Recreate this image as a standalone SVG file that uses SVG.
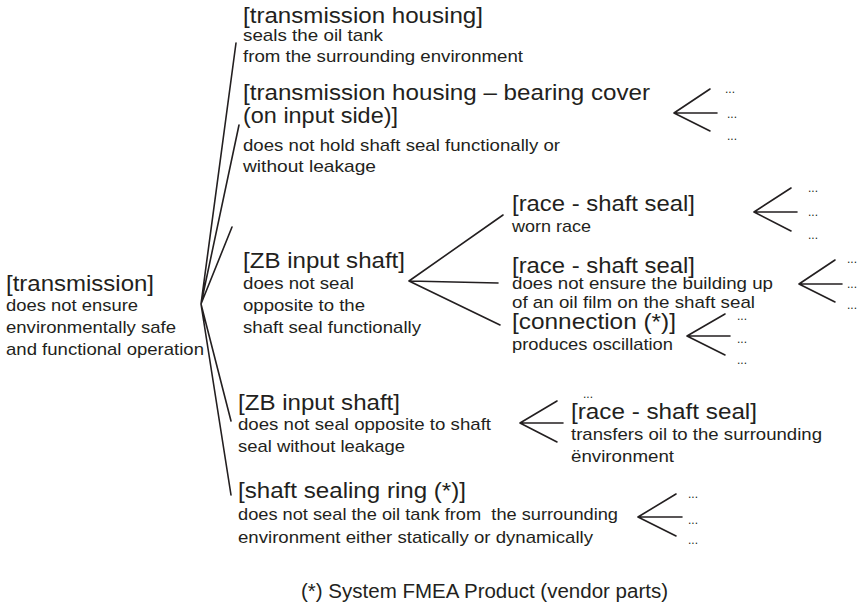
<svg xmlns="http://www.w3.org/2000/svg" width="864" height="614" viewBox="0 0 864 614">
  <style>
    text { font-family: "Liberation Sans", Arial, sans-serif; fill: #231f20; }
    .t { font-size: 22px; }
    .s { font-size: 17px; }
    .d { font-size: 12px; }
    .f { font-size: 20px; }
    .ln { stroke: #231f20; stroke-width: 1.6; fill: none; stroke-linecap: round; stroke-linejoin: round; }
  </style>

  <!-- connectors -->
  <g id="connectors" class="ln">
    <!-- root fan -->
    <path d="M201,304 L236,43 M201,304 L239,125 M201,304 L232,227 M201,304 L231,421 M201,304 L231,495"/>
    <!-- ZB input shaft fan -->
    <path d="M409,281 L503,215 M409,281 L498,283 M409,281 L500,325"/>
    <!-- cause fans -->
    <path d="M710,89 L674,113 L710,131 M674,113 L717,113"/>
    <path d="M791,188 L754,212 L791,231 M754,212 L797,212"/>
    <path d="M835,260 L799,284 L835,302 M799,284 L842,284"/>
    <path d="M725,314 L687,336 L725,355 M687,336 L730,336"/>
    <path d="M557,401 L520,423 L557,442 M520,423 L563,423"/>
    <path d="M676,494 L638,517 L676,536 M638,517 L682,517"/>
  </g>

  <g id="n-transmission">
    <text class="t" x="6" y="291" textLength="148" lengthAdjust="spacingAndGlyphs">[transmission]</text>
    <text class="s" x="6" y="311" textLength="132" lengthAdjust="spacingAndGlyphs">does not ensure</text>
    <text class="s" x="6" y="333" textLength="170" lengthAdjust="spacingAndGlyphs">environmentally safe</text>
    <text class="s" x="6" y="355" textLength="198" lengthAdjust="spacingAndGlyphs">and functional operation</text>
  </g>

  <g id="n-housing">
    <text class="t" x="243" y="23" textLength="240" lengthAdjust="spacingAndGlyphs">[transmission housing]</text>
    <text class="s" x="243" y="41" textLength="140" lengthAdjust="spacingAndGlyphs">seals the oil tank</text>
    <text class="s" x="243" y="62" textLength="280" lengthAdjust="spacingAndGlyphs">from the surrounding environment</text>
  </g>

  <g id="n-bearing-cover">
    <text class="t" x="243" y="100" textLength="407" lengthAdjust="spacingAndGlyphs">[transmission housing – bearing cover</text>
    <text class="t" x="243" y="123" textLength="155" lengthAdjust="spacingAndGlyphs">(on input side)]</text>
    <text class="s" x="243" y="151" textLength="317" lengthAdjust="spacingAndGlyphs">does not hold shaft seal functionally or</text>
    <text class="s" x="243" y="172" textLength="133" lengthAdjust="spacingAndGlyphs">without leakage</text>
    <text class="d" x="725" y="93">...</text>
    <text class="d" x="727" y="118">...</text>
    <text class="d" x="727" y="140">...</text>
  </g>

  <g id="n-zb-shaft-1">
    <text class="t" x="243" y="268" textLength="162" lengthAdjust="spacingAndGlyphs">[ZB input shaft]</text>
    <text class="s" x="243" y="289" textLength="111" lengthAdjust="spacingAndGlyphs">does not seal</text>
    <text class="s" x="243" y="311" textLength="122" lengthAdjust="spacingAndGlyphs">opposite to the</text>
    <text class="s" x="243" y="333" textLength="178" lengthAdjust="spacingAndGlyphs">shaft seal functionally</text>
  </g>

  <g id="n-race-worn">
    <text class="t" x="512" y="211" textLength="183" lengthAdjust="spacingAndGlyphs">[race - shaft seal]</text>
    <text class="s" x="512" y="232" textLength="79" lengthAdjust="spacingAndGlyphs">worn race</text>
    <text class="d" x="808" y="192">...</text>
    <text class="d" x="808" y="216">...</text>
    <text class="d" x="808" y="239">...</text>
  </g>

  <g id="n-race-film">
    <text class="t" x="512" y="273" textLength="183" lengthAdjust="spacingAndGlyphs">[race - shaft seal]</text>
    <text class="s" x="512" y="289" textLength="261" lengthAdjust="spacingAndGlyphs">does not ensure the building up</text>
    <text class="s" x="512" y="308" textLength="243" lengthAdjust="spacingAndGlyphs">of an oil film on the shaft seal</text>
    <text class="d" x="847" y="263">...</text>
    <text class="d" x="847" y="288">...</text>
    <text class="d" x="847" y="309">...</text>
  </g>

  <g id="n-connection">
    <text class="t" x="512" y="329" textLength="164" lengthAdjust="spacingAndGlyphs">[connection (*)]</text>
    <text class="s" x="512" y="350" textLength="161" lengthAdjust="spacingAndGlyphs">produces oscillation</text>
    <text class="d" x="737" y="320">...</text>
    <text class="d" x="737" y="343">...</text>
    <text class="d" x="737" y="364">...</text>
  </g>

  <g id="n-zb-shaft-2">
    <text class="t" x="238" y="410" textLength="162" lengthAdjust="spacingAndGlyphs">[ZB input shaft]</text>
    <text class="s" x="238" y="430" textLength="253" lengthAdjust="spacingAndGlyphs">does not seal opposite to shaft</text>
    <text class="s" x="238" y="452" textLength="167" lengthAdjust="spacingAndGlyphs">seal without leakage</text>
  </g>

  <g id="n-race-transfer">
    <text class="d" x="583" y="398">...</text>
    <text class="t" x="571" y="419" textLength="186" lengthAdjust="spacingAndGlyphs">[race - shaft seal]</text>
    <text class="s" x="571" y="440" textLength="251" lengthAdjust="spacingAndGlyphs">transfers oil to the surrounding</text>
    <text class="s" x="571" y="462" textLength="103" lengthAdjust="spacingAndGlyphs">ënvironment</text>
  </g>

  <g id="n-sealing-ring">
    <text class="t" x="238" y="498" textLength="228" lengthAdjust="spacingAndGlyphs">[shaft sealing ring (*)]</text>
    <text class="s" x="238" y="520" textLength="380" lengthAdjust="spacingAndGlyphs" xml:space="preserve">does not seal the oil tank from  the surrounding</text>
    <text class="s" x="238" y="543" textLength="355" lengthAdjust="spacingAndGlyphs">environment either statically or dynamically</text>
    <text class="d" x="688" y="498">...</text>
    <text class="d" x="688" y="524">...</text>
    <text class="d" x="688" y="544">...</text>
  </g>

  <g id="footnote">
    <text class="f" x="301" y="598" textLength="367" lengthAdjust="spacingAndGlyphs">(*) System FMEA Product (vendor parts)</text>
  </g>
</svg>
